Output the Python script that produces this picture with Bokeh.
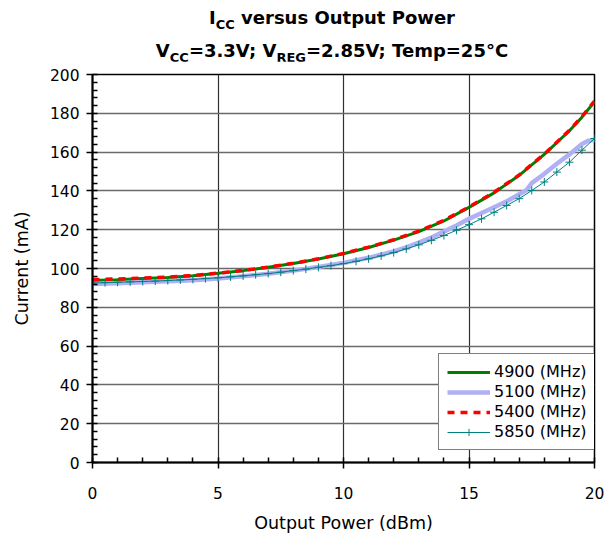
from bokeh.plotting import figure
from bokeh.models import Div, SingleIntervalTicker, Legend, LegendItem
from bokeh.layouts import column
from bokeh.embed import file_html
from bokeh.resources import INLINE

# ---- data ----
p_4900 = [0, 1, 2, 3, 4, 5, 6, 7, 8, 9, 10, 11, 12, 13, 14, 15, 16, 17, 18, 19, 19.5, 20]
i_4900 = [93.8, 94.2, 94.8, 95.4, 96.3, 97.5, 98.9, 100.6, 102.6, 104.9, 107.6, 110.8,
          114.6, 119.0, 124.5, 131.5, 139.0, 148.0, 158.8, 171.0, 178.0, 186.0]

p_5400 = [0, 1, 2, 3, 4, 5, 6, 7, 8, 9, 10, 11, 12, 13, 14, 15, 16, 17, 18, 19, 19.5, 20]
i_5400 = [94.3, 94.6, 95.1, 95.6, 96.4, 97.6, 99.0, 100.7, 102.7, 105.0, 107.8, 111.0,
          114.8, 119.3, 124.8, 131.7, 139.3, 148.2, 159.0, 171.2, 178.3, 186.3]

p_5100 = [0, 1, 2, 3, 4, 5, 6, 7, 8, 9, 10, 11, 12, 12.5, 13, 13.5, 14, 14.5, 15, 15.5,
          16, 16.5, 17, 17.3, 17.5, 18, 18.5, 19, 19.5, 19.75, 20]
i_5100 = [92.0, 92.4, 92.9, 93.4, 94.0, 94.9, 96.0, 97.3, 98.9, 100.8, 102.9, 105.5, 108.8,
          110.9, 113.3, 116.0, 119.0, 122.2, 125.6, 128.6, 131.6, 134.6, 138.3, 140.5, 144.0,
          148.8, 154.0, 158.8, 164.2, 165.8, 166.3]

p_5850 = [0, 0.5, 1, 1.5, 2, 2.5, 3, 3.5, 4, 4.5, 5, 5.5, 6, 6.5, 7, 7.5, 8, 8.5, 9, 9.5,
          10, 10.5, 11, 11.5, 12, 12.5, 13, 13.5, 14, 14.5, 15, 15.5, 16, 16.5, 17, 17.5,
          18, 18.5, 19, 19.5, 20]
i_5850 = [92.5, 92.7, 92.9, 93.1, 93.3, 93.5, 93.8, 94.1, 94.4, 94.8, 95.2, 95.7, 96.2, 96.8,
          97.4, 98.1, 98.9, 99.7, 100.6, 101.5, 102.5, 103.7, 105.0, 106.5, 108.2, 110.1,
          112.2, 114.5, 117.0, 119.7, 122.6, 125.6, 129.0, 132.5, 136.0, 140.2, 144.6, 149.7,
          154.8, 161.0, 167.0]

series_labels = ["4900 (MHz)", "5100 (MHz)", "5400 (MHz)", "5850 (MHz)"]
x_label = "Output Power (dBm)"
y_label = "Current (mA)"

FONT = "DejaVu Sans"

title_html = (
    '<div style="font-family:\'DejaVu Sans\';font-weight:bold;font-size:18px;color:#000;'
    'width:544px;margin-left:60px;padding-top:8px;text-align:center;">'
    '<div style="height:20px;line-height:20px;">I<sub style="font-size:13px;line-height:0;">CC</sub>'
    ' versus Output Power</div>'
    '<div style="height:20px;line-height:20px;margin-top:13px;">'
    'V<sub style="font-size:13px;line-height:0;">CC</sub>=3.3V; '
    'V<sub style="font-size:13px;line-height:0;">REG</sub>=2.85V; Temp=25°C</div>'
    '</div>'
)
title = Div(text=title_html, width=604, height=61, margin=0)

p = figure(width=604, height=476, x_range=(0, 20), y_range=(0, 200),
           output_backend="svg", toolbar_location=None, margin=0,
           min_border_left=92, min_border_right=10, min_border_top=13, min_border_bottom=75)

p.outline_line_color = "black"
p.outline_line_width = 1.5
p.background_fill_color = "white"
p.border_fill_color = "white"

p.xaxis.ticker = SingleIntervalTicker(interval=5, num_minor_ticks=5)
p.yaxis.ticker = SingleIntervalTicker(interval=20, num_minor_ticks=5)

for ax in (p.xaxis, p.yaxis):
    ax.axis_line_color = "black"
    ax.axis_line_width = 2
    ax.major_tick_line_color = "black"
    ax.major_tick_line_width = 1.5
    ax.major_tick_in = 0
    ax.major_tick_out = 6
    ax.minor_tick_line_color = "black"
    ax.minor_tick_line_width = 1.5
    ax.minor_tick_in = 5
    ax.minor_tick_out = 0
    ax.major_label_text_font = FONT
    ax.major_label_text_font_size = "15.5px"
    ax.major_label_text_color = "black"
    ax.axis_label_text_font = FONT
    ax.axis_label_text_font_size = "17.5px"
    ax.axis_label_text_font_style = "normal"
    ax.axis_label_text_color = "black"

p.xaxis.axis_label = x_label
p.yaxis.axis_label = y_label
p.xaxis.major_label_standoff = 18
p.xaxis.axis_label_standoff = 11
p.yaxis.major_label_standoff = 7
p.yaxis.axis_label_standoff = 15

p.xgrid.grid_line_color = "#303030"
p.xgrid.grid_line_width = 1.2
p.ygrid.grid_line_color = "#6a6a6a"
p.ygrid.grid_line_width = 1.5

r1 = p.line(p_4900, i_4900, line_color="#008000", line_width=3)
r2 = p.line(p_5100, i_5100, line_color="#b0b0f4", line_width=4.5)
r3 = p.line(p_5400, i_5400, line_color="#ff0000", line_width=3.5, line_dash="7 6")
r4 = p.line(p_5850, i_5850, line_color="#008080", line_width=1)
r4m = p.scatter(p_5850, i_5850, marker="cross", size=8, line_color="#008080", line_width=1)

legend = Legend(items=[
    LegendItem(label=series_labels[0], renderers=[r1]),
    LegendItem(label=series_labels[1], renderers=[r2]),
    LegendItem(label=series_labels[2], renderers=[r3]),
    LegendItem(label=series_labels[3], renderers=[r4, r4m]),
], location=(346, 12))
legend.border_line_color = "black"
legend.border_line_width = 1.2
legend.background_fill_color = "white"
legend.background_fill_alpha = 1
legend.label_text_font = FONT
legend.label_text_font_size = "16px"
legend.label_text_color = "black"
legend.glyph_width = 43
legend.glyph_height = 18
legend.label_height = 18
legend.label_standoff = 4
legend.spacing = 1
legend.padding = 8
legend.margin = 0
p.add_layout(legend, "center")

layout = column(title, p, spacing=0, margin=0)
open("out.html", "w").write(file_html(layout, INLINE))
